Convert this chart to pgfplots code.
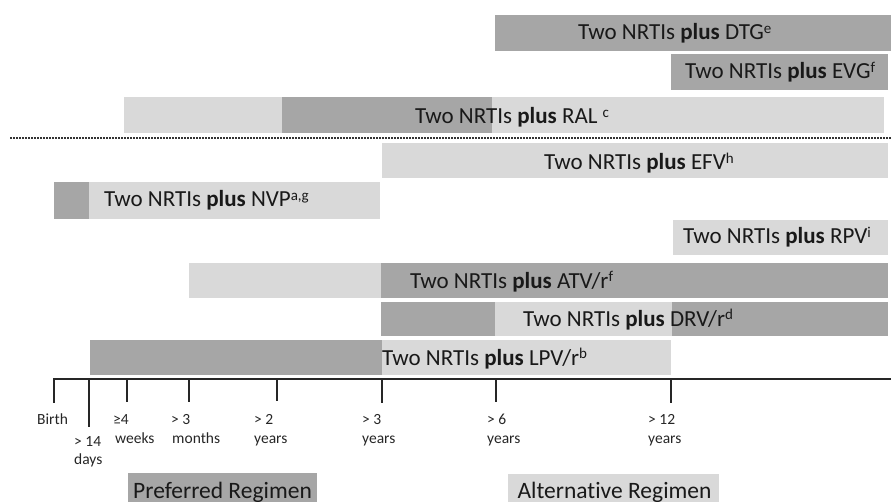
\documentclass[border=0pt]{standalone}
\usepackage{pgfplots}
\pgfplotsset{compat=1.18}
\usepackage{fontspec}
\setmainfont{Carlito}[Ligatures={NoCommon}]
\definecolor{darkg}{HTML}{A6A6A6}
\definecolor{lightg}{HTML}{D9D9D9}
% segment: x1 x2 ytop ybottom colour
\newcommand{\seg}[5]{\addplot[fill=#5, draw=none, forget plot] coordinates {(#1,#3) (#2,#3) (#2,#4) (#1,#4)} -- cycle;}
\newcommand{\barfont}{\fontsize{23}{27}\selectfont}
\newcommand{\tickfont}{\fontsize{15.5}{19}\selectfont}
\newcommand{\sx}[1]{\raisebox{6.5pt}{\fontsize{15}{15}\selectfont #1}}
\begin{document}
\begin{tikzpicture}
\begin{axis}[name=main, scale only axis, width=891pt, height=502pt,
  xmin=0, xmax=891, ymin=0, ymax=502, y dir=reverse, hide axis, clip=false]
% DTG
\seg{495}{891}{15}{51}{darkg}
% EVG
\seg{671}{888}{54}{90}{darkg}
% RAL
\seg{124}{282}{97}{133}{lightg}
\seg{282}{492}{97}{133}{darkg}
\seg{492}{884}{97}{133}{lightg}
% EFV
\seg{382}{888}{143}{178}{lightg}
% NVP
\seg{54}{89}{182}{219}{darkg}
\seg{89}{380}{182}{219}{lightg}
% RPV
\seg{673}{888}{220}{255}{lightg}
% ATV
\seg{189}{381}{263}{298}{lightg}
\seg{381}{888}{263}{298}{darkg}
% DRV
\seg{381}{495}{302}{336}{darkg}
\seg{495}{672}{302}{336}{lightg}
\seg{672}{888}{302}{336}{darkg}
% LPV
\seg{90}{382}{340}{375}{darkg}
\seg{382}{671}{340}{375}{lightg}
% dotted separator
\addplot[black!80, line width=2pt, dash pattern=on 1.6pt off 1.4pt, forget plot] coordinates {(10,138) (891,138)};
% time axis
\addplot[black!85, line width=2pt, forget plot] coordinates {(54,379) (891,379)};
\addplot[black!85, line width=2pt, forget plot] coordinates {(54,378) (54,403)};
\addplot[black!85, line width=2pt, forget plot] coordinates {(89,378) (89,427)};
\addplot[black!85, line width=2pt, forget plot] coordinates {(127,378) (127,402)};
\addplot[black!85, line width=2pt, forget plot] coordinates {(189,378) (189,402)};
\addplot[black!85, line width=2pt, forget plot] coordinates {(277,378) (277,401)};
\addplot[black!85, line width=2pt, forget plot] coordinates {(382,378) (382,403)};
\addplot[black!85, line width=2pt, forget plot] coordinates {(496,378) (496,402)};
\addplot[black!85, line width=2pt, forget plot] coordinates {(671,378) (671,403)};
% bar labels
\begin{scope}[every node/.style={anchor=base west, inner sep=0pt, font=\barfont, text=black!90}]
\node at (axis cs:578,40) {Two NRTIs \textbf{plus} DTG\sx{e}};
\node at (axis cs:685,79) {Two NRTIs \textbf{plus} EVG\sx{f}};
\node at (axis cs:415,124) {Two NRTIs \textbf{plus} RAL \sx{c}};
\node at (axis cs:544,170) {Two NRTIs \textbf{plus} EFV\sx{h}};
\node at (axis cs:104,207) {Two NRTIs \textbf{plus} NVP\sx{a,g}};
\node at (axis cs:683,244) {Two NRTIs \textbf{plus} RPV\sx{i}};
\node at (axis cs:410,288) {Two NRTIs \textbf{plus} ATV/r\sx{f}};
\node at (axis cs:523,326) {Two NRTIs \textbf{plus} DRV/r\sx{d}};
\node at (axis cs:382,365) {Two NRTIs \textbf{plus} LPV/r\sx{b}};
\end{scope}
% tick labels
\begin{scope}[every node/.style={anchor=base west, inner sep=0pt, font=\tickfont, text=black!85}]
\node at (axis cs:37,424) {Birth};
\node at (axis cs:74,446) {> 14};
\node at (axis cs:74,464) {days};
\node at (axis cs:113,424) {≥4};
\node at (axis cs:115,443) {weeks};
\node at (axis cs:171,424) {> 3};
\node at (axis cs:172,443) {months};
\node at (axis cs:254,424) {> 2};
\node at (axis cs:254,443) {years};
\node at (axis cs:362,424) {> 3};
\node at (axis cs:362,443) {years};
\node at (axis cs:487,424) {> 6};
\node at (axis cs:487,443) {years};
\node at (axis cs:648,424) {> 12};
\node at (axis cs:648,443) {years};
\end{scope}
% legend
\node[fill=darkg, anchor=north west, minimum width=189pt, minimum height=40pt, inner sep=0pt] at (axis cs:128,473) {};
\node[anchor=base, inner sep=0pt, font=\fontsize{23.5}{28}\selectfont, text=black!90] at (axis cs:222.5,498) {Preferred Regimen};
\node[fill=lightg, anchor=north west, minimum width=211pt, minimum height=40pt, inner sep=0pt] at (axis cs:508,474) {};
\node[anchor=base, inner sep=0pt, font=\fontsize{23.5}{28}\selectfont, text=black!90] at (axis cs:614.5,498) {Alternative Regimen};
\end{axis}
\pgfresetboundingbox
\useasboundingbox (main.south west) rectangle (main.north east);
\end{tikzpicture}
\end{document}
